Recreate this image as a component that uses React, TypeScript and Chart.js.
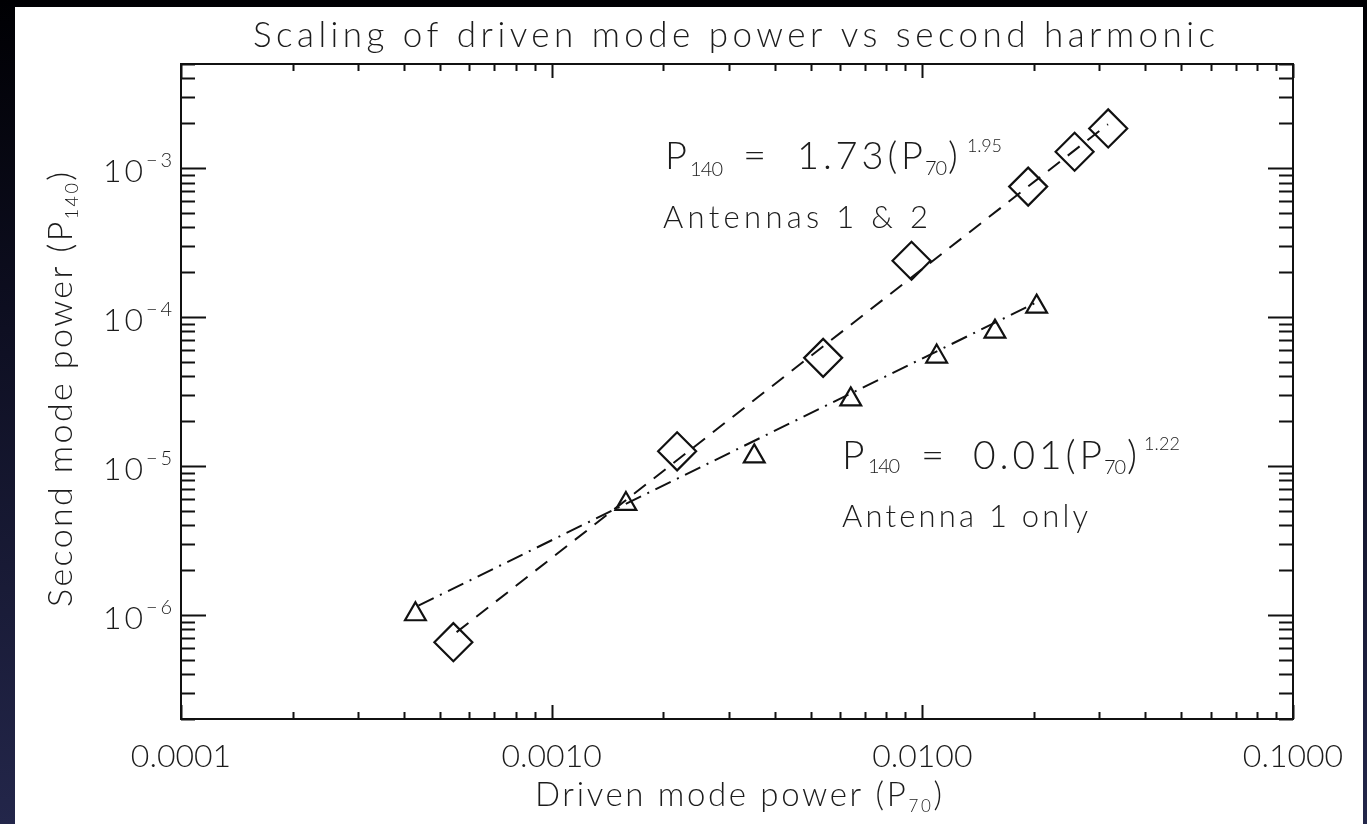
import React, { useEffect, useRef } from "react";
import { Chart, registerables } from "chart.js";

Chart.register(...registerables);

// ---- data ----
const diamondX = [5.43e-4, 2.18e-3, 5.4e-3, 9.35e-3, 0.0193, 0.02575, 0.03173];
const diamondY = [6.56e-7, 1.254e-5, 5.32e-5, 2.386e-4, 7.51e-4, 1.288e-3, 1.847e-3];
const triangleX = [4.29e-4, 1.586e-3, 3.52e-3, 6.41e-3, 0.01093, 0.0157, 0.02034];
const triangleY = [1.01e-6, 5.56e-6, 1.16e-5, 2.8e-5, 5.43e-5, 7.98e-5, 1.175e-4];
const fitDiamondX = [5.54e-4, 0.03168];
const fitDiamondY = [7.66e-7, 1.97e-3];
const fitTriangleX = [4.37e-4, 0.0204];
const fitTriangleY = [1.154e-6, 1.26e-4];
const xTickValues = [1e-4, 1e-3, 1e-2, 1e-1];
const xTickLabels = ["0.0001", "0.0010", "0.0100", "0.1000"];
const yTickValues = [1e-6, 1e-5, 1e-4, 1e-3];
const yTickExponents = ["\u22126", "\u22125", "\u22124", "\u22123"];
const xRange = [1e-4, 0.1];
const yRange = [2e-7, 5e-3];

const titleText = "Scaling of driven mode power vs second harmonic";
const xTitleMain = "Driven mode power (P";
const xTitleSub = "70";
const yTitleMain = "Second mode power (P";
const yTitleSub = "140";
const eq1Parts = ["P", "140", "=", "1.73(P", "70", ")", "1.95"];
const eq1Label = "Antennas 1 & 2";
const eq2Parts = ["P", "140", "=", "0.01(P", "70", ")", "1.22"];
const eq2Label = "Antenna 1 only";

const FONT_FAMILY = "Lato, 'DejaVu Sans', sans-serif";
const TEXT_COLOR = "#1c1c1c";
const INK = "#111";

type Seg = { t: string; s: number; dy?: number };

function fnt(size: number) {
  return `300 ${size}px ${FONT_FAMILY}`;
}

function richFit(ctx: CanvasRenderingContext2D, segs: Seg[], x: number, y: number, targetW?: number) {
  let natural = 0;
  let n = 0;
  const widths: number[] = [];
  (ctx as any).letterSpacing = "0px";
  for (const s of segs) {
    ctx.font = fnt(s.s);
    const w = ctx.measureText(s.t).width;
    widths.push(w);
    natural += w;
    n += Array.from(s.t).length;
  }
  const sp = targetW && n > 1 ? (targetW - natural) / (n - 1) : 0;
  let cx = x;
  segs.forEach((s, i) => {
    ctx.font = fnt(s.s);
    (ctx as any).letterSpacing = `${sp}px`;
    ctx.fillText(s.t, cx, y + (s.dy || 0));
    cx += widths[i] + Array.from(s.t).length * sp;
  });
  (ctx as any).letterSpacing = "0px";
}

const decorPlugin = {
  id: "idlDecor",
  afterDraw(chart: any) {
    const { ctx, chartArea: a, scales } = chart;
    const xs = scales.x;
    const ys = scales.y;
    ctx.save();
    ctx.strokeStyle = INK;
    // frame
    ctx.lineWidth = 2;
    ctx.strokeRect(a.left, a.top, a.right - a.left, a.bottom - a.top);
    // ticks
    ctx.lineWidth = 2;
    ctx.beginPath();
    for (let e = -5; e <= -1; e++) {
      for (let m = 1; m <= 9; m++) {
        const v = m * Math.pow(10, e);
        if (v < xRange[0] * 0.999 || v > xRange[1] * 1.001) continue;
        const px = Math.round(xs.getPixelForValue(v)) + 0.5;
        const len = m === 1 ? 14 : 7;
        ctx.moveTo(px, a.bottom);
        ctx.lineTo(px, a.bottom - len);
        ctx.moveTo(px, a.top);
        ctx.lineTo(px, a.top + len);
      }
    }
    for (let e = -8; e <= -2; e++) {
      for (let m = 1; m <= 9; m++) {
        const v = m * Math.pow(10, e);
        if (v < yRange[0] * 0.999 || v > yRange[1] * 1.001) continue;
        const py = Math.round(ys.getPixelForValue(v)) + 0.5;
        const len = m === 1 ? 25 : 14;
        ctx.moveTo(a.left, py);
        ctx.lineTo(a.left + len, py);
        ctx.moveTo(a.right, py);
        ctx.lineTo(a.right - len, py);
      }
    }
    ctx.stroke();

    ctx.fillStyle = TEXT_COLOR;
    ctx.textBaseline = "alphabetic";
    ctx.textAlign = "left";

    // y tick labels 10^-n
    yTickValues.forEach((v, i) => {
      const py = ys.getPixelForValue(v);
      richFit(ctx, [{ t: "10", s: 32 }, { t: yTickExponents[i], s: 20, dy: -15 }], 103, py + 14, 69);
    });

    // title
    richFit(ctx, [{ t: titleText, s: 35 }], 253, 47, 962);

    // x title
    richFit(ctx, [{ t: xTitleMain, s: 33 }, { t: xTitleSub, s: 17, dy: 6 }, { t: ")", s: 33 }], 535, 806, 407);

    // y title (rotated)
    ctx.save();
    ctx.translate(72, 607);
    ctx.rotate(-Math.PI / 2);
    richFit(ctx, [{ t: yTitleMain, s: 34 }, { t: yTitleSub, s: 18, dy: 6 }, { t: ")", s: 34 }], 0, 0, 435);
    ctx.restore();

    // equation 1
    richFit(ctx, [{ t: eq1Parts[0], s: 38 }], 665, 169);
    richFit(ctx, [{ t: eq1Parts[1], s: 20 }], 690, 176, 33);
    richFit(ctx, [{ t: eq1Parts[2], s: 40 }], 743, 169);
    richFit(ctx, [{ t: eq1Parts[3], s: 38 }], 797, 169, 126);
    richFit(ctx, [{ t: eq1Parts[4], s: 20 }], 925, 175, 22);
    richFit(ctx, [{ t: eq1Parts[5], s: 38 }], 948, 169);
    richFit(ctx, [{ t: eq1Parts[6], s: 18 }], 967, 152, 35);
    richFit(ctx, [{ t: eq1Label, s: 31 }], 663, 228, 265);

    // equation 2
    richFit(ctx, [{ t: eq2Parts[0], s: 39 }], 842, 469);
    richFit(ctx, [{ t: eq2Parts[1], s: 20 }], 868, 473, 32);
    richFit(ctx, [{ t: eq2Parts[2], s: 40 }], 921, 469);
    richFit(ctx, [{ t: eq2Parts[3], s: 39 }], 973, 469, 129);
    richFit(ctx, [{ t: eq2Parts[4], s: 20 }], 1104, 474, 22);
    richFit(ctx, [{ t: eq2Parts[5], s: 39 }], 1127, 469);
    richFit(ctx, [{ t: eq2Parts[6], s: 18 }], 1144, 450, 36);
    richFit(ctx, [{ t: eq2Label, s: 31 }], 842, 527, 246);

    ctx.restore();
  },
};

function toPoints(xs: number[], ys: number[]) {
  return xs.map((x, i) => ({ x, y: ys[i] }));
}

export default function App() {
  const canvasRef = useRef<HTMLCanvasElement | null>(null);

  useEffect(() => {
    const canvas = canvasRef.current;
    if (!canvas) return;
    const chart = new Chart(canvas, {
      type: "scatter",
      data: {
        datasets: [
          {
            label: "fit 1 & 2",
            data: toPoints(fitDiamondX, fitDiamondY),
            showLine: true,
            borderColor: INK,
            borderWidth: 2,
            borderDash: [15, 10],
            pointRadius: 0,
            fill: false,
          },
          {
            label: "fit 1 only",
            data: toPoints(fitTriangleX, fitTriangleY),
            showLine: true,
            borderColor: INK,
            borderWidth: 2,
            borderDash: [17, 7, 2, 7],
            pointRadius: 0,
            fill: false,
          },
          {
            label: "Antennas 1 & 2",
            data: toPoints(diamondX, diamondY),
            showLine: false,
            pointStyle: "rectRot",
            pointRadius: 19,
            pointBorderWidth: 2.2,
            pointBorderColor: INK,
            pointBackgroundColor: "rgba(0,0,0,0)",
          },
          {
            label: "Antenna 1 only",
            data: toPoints(triangleX, triangleY),
            showLine: false,
            pointStyle: "triangle",
            pointRadius: 12,
            pointBorderWidth: 2.2,
            pointBorderColor: INK,
            pointBackgroundColor: "rgba(0,0,0,0)",
          },
        ],
      },
      options: {
        animation: false,
        responsive: false,
        devicePixelRatio: 1,
        events: [],
        layout: { padding: { left: 0, right: 74, top: 64, bottom: 0 } },
        plugins: {
          legend: { display: false },
          tooltip: { enabled: false },
          title: { display: false },
        },
        scales: {
          x: {
            type: "logarithmic",
            position: "bottom",
            min: xRange[0],
            max: xRange[1],
            afterBuildTicks: (s: any) => {
              s.ticks = xTickValues.map((v) => ({ value: v }));
            },
            afterFit: (s: any) => {
              s.height = 105;
            },
            grid: { display: false, drawTicks: false },
            border: { display: false },
            ticks: {
              autoSkip: false,
              maxRotation: 0,
              padding: 18,
              color: TEXT_COLOR,
              font: { family: FONT_FAMILY, size: 32, weight: "300" },
              callback: (v: any) => {
                const i = xTickValues.findIndex((t) => Math.abs(t - Number(v)) / t < 1e-6);
                return i >= 0 ? xTickLabels[i] : "";
              },
            },
          },
          y: {
            type: "logarithmic",
            position: "left",
            min: yRange[0],
            max: yRange[1],
            afterBuildTicks: (s: any) => {
              s.ticks = yTickValues.map((v) => ({ value: v }));
            },
            afterFit: (s: any) => {
              s.width = 181;
            },
            grid: { display: false, drawTicks: false },
            border: { display: false },
            ticks: { display: false },
          },
        },
      } as any,
      plugins: [decorPlugin],
    });
    return () => chart.destroy();
  }, []);

  return (
    <div
      style={{
        position: "fixed",
        inset: 0,
        background: "linear-gradient(180deg, #000003 0%, #0e0f22 40%, #23264a 100%)",
        overflow: "hidden",
      }}
    >
      <div
        style={{
          position: "absolute",
          left: 15,
          top: 7,
          width: 1348,
          height: 830,
          background: "#ffffff",
        }}
      />
      <canvas
        ref={canvasRef}
        width={1367}
        height={824}
        style={{ position: "absolute", left: 0, top: 0, display: "block" }}
      />
    </div>
  );
}
